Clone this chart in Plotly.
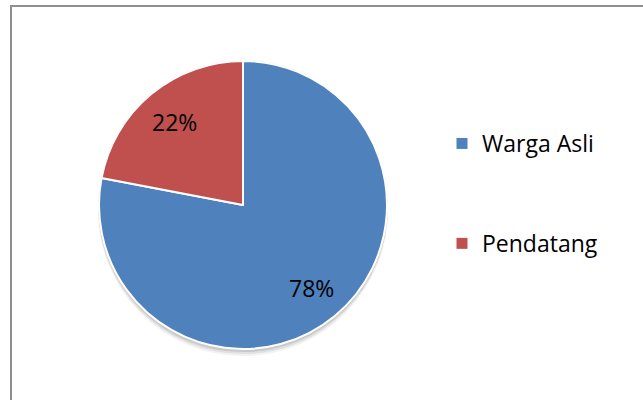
import math
import plotly.graph_objects as go

# Penduduk menurut asal
categories = ["Warga Asli", "Pendatang"]
values = [78, 22]
colors = ["#4F81BD", "#C0504D"]

W, H = 643, 400
FONT = "Open Sans"

# pie placement in pixels (centre x, centre y, diameter)
cx, cy, d = 243, 205, 288
px = lambda x: x / W
py = lambda y: 1 - y / H

fig = go.Figure()

fig.add_trace(go.Pie(
    labels=categories,
    values=values,
    marker=dict(colors=colors, line=dict(color="white", width=2)),
    sort=False,
    direction="clockwise",
    rotation=0,
    textinfo="none",
    showlegend=False,
    domain=dict(x=[px(cx - d / 2), px(cx + d / 2)],
                y=[py(cy + d / 2), py(cy - d / 2)]),
    hoverinfo="label+percent",
))

# percentage labels, placed along each slice's mid-angle
total = sum(values)
annotations = []
start = 0.0
for v in values:
    frac = v / total
    mid = 2 * math.pi * (start + frac / 2)  # clockwise from 12 o'clock
    rr = 0.745 * d / 2
    annotations.append(dict(
        x=px(cx + rr * math.sin(mid)), y=py(cy - rr * math.cos(mid)),
        xref="paper", yref="paper", showarrow=False,
        text=f"{round(frac * 100)}%",
        font=dict(family=FONT, size=23, color="black"),
        xanchor="center", yanchor="middle",
    ))
    start += frac

# legend entries, one group each so they can be spaced apart
for i, (name, col) in enumerate(zip(categories, colors)):
    fig.add_trace(go.Scatter(
        x=[None], y=[None], mode="markers", name=name,
        marker=dict(symbol="square", size=11, color=col),
        legendgroup=f"g{i}", hoverinfo="skip",
    ))

shapes = []
# soft shadow beneath the pie
for off, alpha in [(7, 0.05), (5, 0.07), (3, 0.10)]:
    shapes.append(dict(
        type="circle", xref="paper", yref="paper", layer="below",
        x0=px(cx - d / 2 - 1), x1=px(cx + d / 2 + 1),
        y0=py(cy + d / 2 + off), y1=py(cy - d / 2 + off - 4),
        fillcolor=f"rgba(0,0,0,{alpha})", line=dict(width=0),
    ))
# chart frame
shapes.append(dict(
    type="rect", xref="paper", yref="paper",
    x0=px(11), y0=py(420), x1=px(660), y1=py(6),
    line=dict(color="#8f8f8f", width=2), fillcolor="rgba(0,0,0,0)",
))

fig.update_layout(
    width=W, height=H,
    margin=dict(l=0, r=0, t=0, b=0),
    paper_bgcolor="white", plot_bgcolor="white",
    font=dict(family=FONT, color="black"),
    xaxis=dict(visible=False), yaxis=dict(visible=False),
    shapes=shapes,
    annotations=annotations,
    legend=dict(
        x=px(442), y=py(122), xanchor="left", yanchor="top",
        traceorder="grouped", tracegroupgap=67,
        font=dict(family=FONT, size=23, color="black"),
        bgcolor="rgba(0,0,0,0)", itemwidth=30,
    ),
)

fig.write_html("out.html")
